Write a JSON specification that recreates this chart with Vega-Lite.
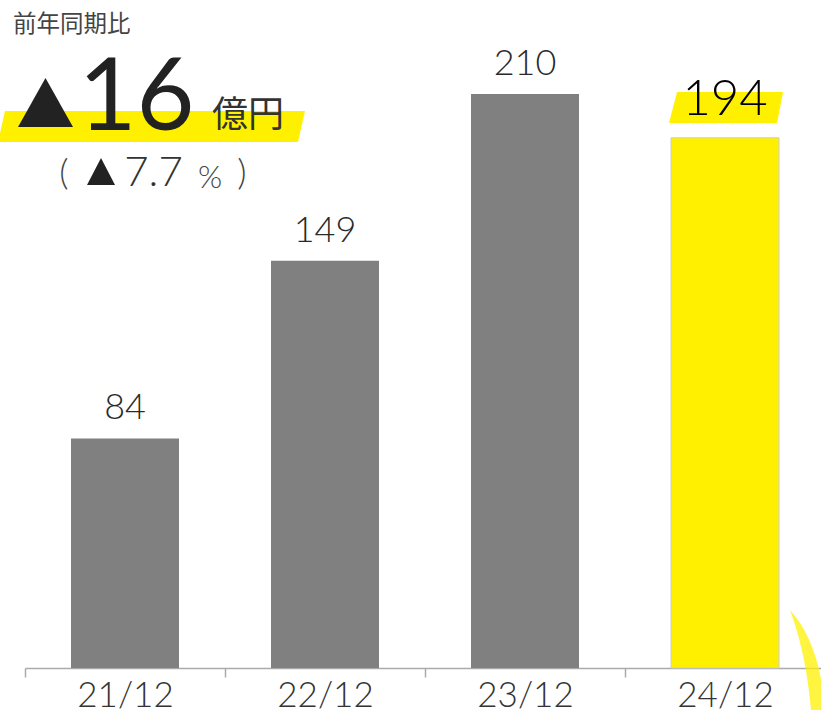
{
  "$schema": "https://vega.github.io/schema/vega-lite/v6.json",
  "autosize": "none",
  "padding": {"left": 25, "top": 0, "right": 0, "bottom": 42},
  "width": 800,
  "height": 668,
  "background": "white",
  "config": {"view": {"stroke": null}},
  "data": {"values": [
    {"period": "21/12", "value": 84},
    {"period": "22/12", "value": 149},
    {"period": "23/12", "value": 210},
    {"period": "24/12", "value": 194}
  ]},
  "layer": [
    {
      "mark": {"type": "bar", "width": {"band": 0.54}},
      "encoding": {
        "x": {"field": "period", "type": "nominal", "sort": null,
          "scale": {"domain": ["21/12", "22/12", "23/12", "24/12"], "paddingInner": 0, "paddingOuter": 0},
          "axis": {"title": null, "tickBand": "extent", "tickSize": 9, "tickColor": "#aaaaaa", "tickWidth": 1.5,
            "domainColor": "#aaaaaa", "domainWidth": 1.5, "labelFont": "Lato", "labelFontWeight": 300,
            "labelFontSize": 35, "labelColor": "#333333", "labelPadding": 1, "labelAngle": 0}},
        "y": {"field": "value", "type": "quantitative",
          "scale": {"domain": [0, 244.4], "nice": false, "zero": true}, "axis": null},
        "color": {"condition": {"test": "datum.period === '24/12'", "value": "#FFF000"}, "value": "#808080"},
        "stroke": {"condition": {"test": "datum.period === '24/12'", "value": "#cccccc"}, "value": null},
        "strokeWidth": {"condition": {"test": "datum.period === '24/12'", "value": 1}, "value": 0}
      }
    },
    {
      "data": {"values": [{"k": "swoosh"}]},
      "mark": {"type": "point", "shape": "M 1.3 -1.16 Q 1.62 -0.3 1.72 0.84 L 2.0 0.84 Q 1.9 -0.5 1.3 -1.16 Z", "size": 10000, "filled": true, "color": "#FFF000", "opacity": 0.75, "strokeWidth": 0},
      "encoding": {"x": {"datum": "24/12"}, "y": {"datum": 0}}
    },
    {
      "data": {"values": [{"k": "hl2"}]},
      "mark": {"type": "point", "shape": "M -0.96 -0.04 L 1.16 -0.04 L 1.04 0.58 L -1.12 0.58 Z", "size": 10000, "filled": true, "color": "#FFF000", "opacity": 1, "strokeWidth": 0},
      "encoding": {"x": {"datum": "24/12"}, "y": {"datum": 210}}
    },
    {
      "data": {"values": [{"k": "hl1"}]},
      "mark": {"type": "point", "shape": "M -2.4 0.34 L 3.6 0.34 L 3.46 0.96 L -2.54 0.96 Z", "size": 10000, "filled": true, "color": "#FFF000", "opacity": 1, "strokeWidth": 0},
      "encoding": {"x": {"datum": "21/12"}, "y": {"datum": 210}}
    },
    {
      "data": {"values": [{"k": "tri1"}]},
      "mark": {"type": "point", "shape": "M -2.14 0.66 L -1.04 0.66 L -1.59 -0.32 Z", "size": 10000, "filled": true, "color": "#222222", "opacity": 1, "strokeWidth": 0},
      "encoding": {"x": {"datum": "21/12"}, "y": {"datum": 210}}
    },
    {
      "data": {"values": [{"k": "tri2"}]},
      "mark": {"type": "point", "shape": "M -0.76 1.82 L -0.2 1.82 L -0.48 1.28 Z", "size": 10000, "filled": true, "color": "#222222", "opacity": 1, "strokeWidth": 0},
      "encoding": {"x": {"datum": "21/12"}, "y": {"datum": 210}}
    },
    {
      "transform": [{"filter": "datum.period !== '24/12'"}],
      "mark": {"type": "text", "font": "Lato", "fontWeight": 300, "fontSize": 36, "color": "#2a2a2a", "baseline": "alphabetic", "dy": -19},
      "encoding": {"x": {"field": "period", "type": "nominal"}, "y": {"field": "value", "type": "quantitative"}, "text": {"field": "value"}}
    },
    {
      "transform": [{"filter": "datum.period === '24/12'"}],
      "mark": {"type": "text", "font": "Lato", "fontWeight": 300, "fontSize": 49, "color": "#000000", "baseline": "alphabetic", "dy": -23},
      "encoding": {"x": {"field": "period", "type": "nominal"}, "y": {"field": "value", "type": "quantitative"}, "text": {"field": "value"}}
    },
    {
      "data": {"values": [{"t": "前年同期比"}]},
      "mark": {"type": "text", "font": "Noto Sans CJK JP", "fontSize": 23.5, "color": "#444444", "align": "left", "baseline": "alphabetic", "dx": -112, "dy": -62},
      "encoding": {"x": {"datum": "21/12"}, "y": {"datum": 210}, "text": {"field": "t"}}
    },
    {
      "data": {"values": [{"t": "16"}]},
      "mark": {"type": "text", "font": "Lato", "fontSize": 100, "color": "#222222", "align": "center", "baseline": "alphabetic", "dx": 11.5, "dy": 36},
      "encoding": {"x": {"datum": "21/12"}, "y": {"datum": 210}, "text": {"field": "t"}}
    },
    {
      "data": {"values": [{"t": "億円"}]},
      "mark": {"type": "text", "font": "Noto Sans CJK JP", "fontSize": 36, "color": "#333333", "align": "left", "baseline": "alphabetic", "dx": 87, "dy": 33},
      "encoding": {"x": {"datum": "21/12"}, "y": {"datum": 210}, "text": {"field": "t"}}
    },
    {
      "data": {"values": [{"t": "("}]},
      "mark": {"type": "text", "font": "Lato", "fontWeight": 300, "fontSize": 36, "color": "#444444", "align": "center", "baseline": "alphabetic", "dx": -61, "dy": 91},
      "encoding": {"x": {"datum": "21/12"}, "y": {"datum": 210}, "text": {"field": "t"}}
    },
    {
      "data": {"values": [{"t": "7.7"}]},
      "mark": {"type": "text", "font": "Lato", "fontWeight": 300, "fontSize": 42, "color": "#333333", "align": "center", "baseline": "alphabetic", "dx": 28.5, "dy": 92},
      "encoding": {"x": {"datum": "21/12"}, "y": {"datum": 210}, "text": {"field": "t"}}
    },
    {
      "data": {"values": [{"t": "%"}]},
      "mark": {"type": "text", "font": "Lato", "fontWeight": 300, "fontSize": 31, "color": "#444444", "align": "center", "baseline": "alphabetic", "dx": 85, "dy": 94},
      "encoding": {"x": {"datum": "21/12"}, "y": {"datum": 210}, "text": {"field": "t"}}
    },
    {
      "data": {"values": [{"t": ")"}]},
      "mark": {"type": "text", "font": "Lato", "fontWeight": 300, "fontSize": 36, "color": "#444444", "align": "center", "baseline": "alphabetic", "dx": 117, "dy": 91},
      "encoding": {"x": {"datum": "21/12"}, "y": {"datum": 210}, "text": {"field": "t"}}
    }
  ]
}
